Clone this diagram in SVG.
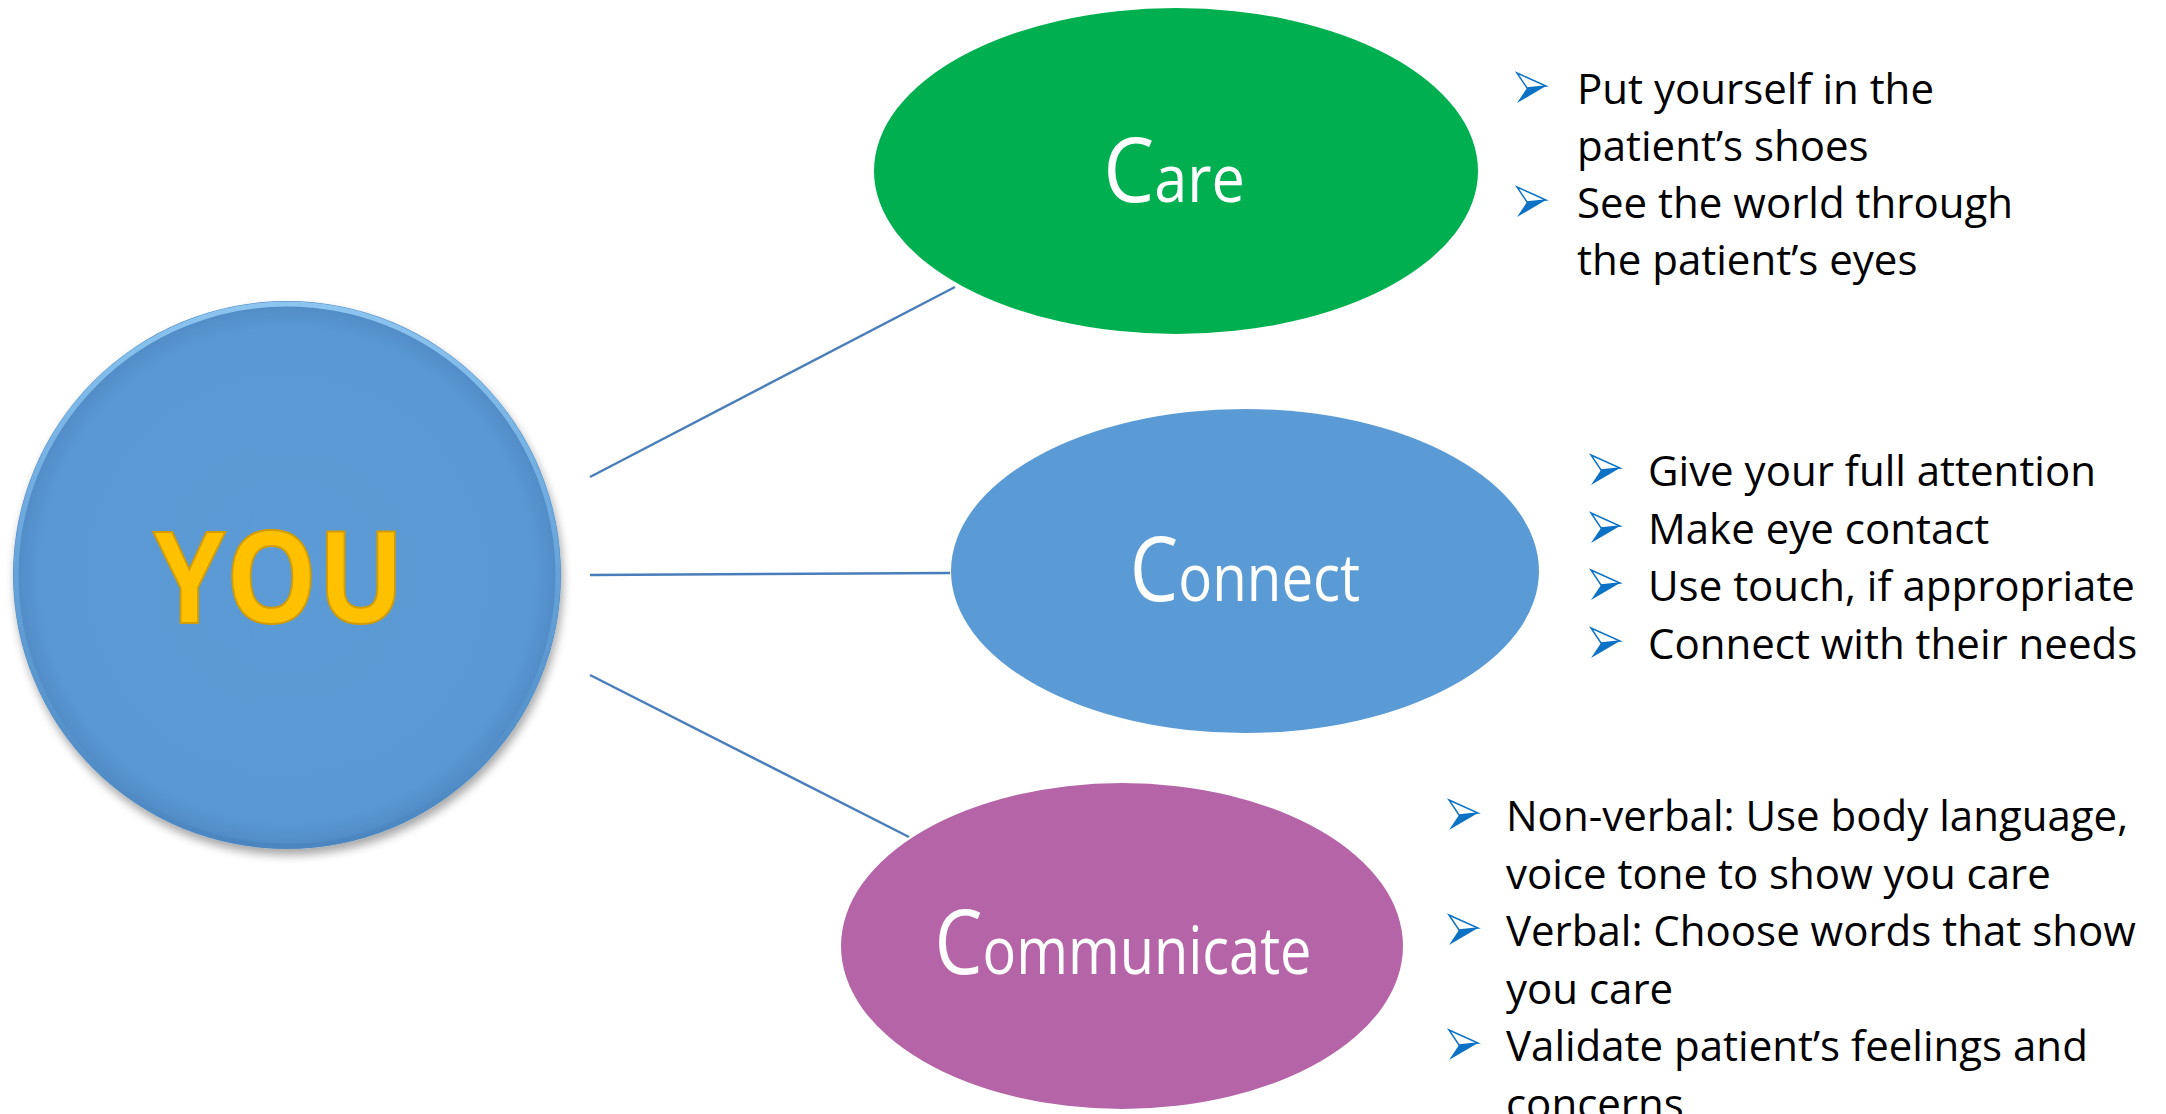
<svg xmlns="http://www.w3.org/2000/svg" xmlns:xlink="http://www.w3.org/1999/xlink" width="2166" height="1114" viewBox="0 0 2166 1114">
<style>
.conn{stroke:#4A7EBB;stroke-width:2.5;fill:none}
.lbl{font-family:"Open Sans","Liberation Sans",sans-serif;fill:#fff;text-anchor:middle}
.big{font-size:90px}
.small{font-size:66px}
.body{font-family:"Open Sans","Liberation Sans",sans-serif;font-size:42px;fill:#000}
.you{font-family:"Open Sans","Liberation Sans",sans-serif;font-weight:bold;font-size:127px;fill:#FFC000;stroke:#D39C00;stroke-width:2;text-anchor:middle}
</style>
<defs>
<radialGradient id="youFill" cx="0.5" cy="0.5" r="0.5">
<stop offset="0" stop-color="#5B9BD5"/>
<stop offset="0.9" stop-color="#5A98D3"/>
<stop offset="1" stop-color="#4F8AC4"/>
</radialGradient>
<linearGradient id="rim" x1="0" y1="0" x2="0" y2="1">
<stop offset="0" stop-color="#9BD3FA"/>
<stop offset="0.5" stop-color="#6AA8DE"/>
<stop offset="1" stop-color="#4A84BE"/>
</linearGradient>
<filter id="shadow" x="-10%" y="-10%" width="120%" height="125%">
<feGaussianBlur in="SourceAlpha" stdDeviation="5"/>
<feOffset dx="2" dy="6" result="b"/>
<feComponentTransfer><feFuncA type="linear" slope="0.35"/></feComponentTransfer>
<feMerge><feMergeNode/><feMergeNode in="SourceGraphic"/></feMerge>
</filter>
<g id="bul">
<polygon points="0,0 29,13 10,15" fill="#fff" stroke="#0B72C6" stroke-width="1.5"/>
<polygon points="10,15 29,13 0,30" fill="#0B72C6"/>
</g>
</defs>
<rect width="2166" height="1114" fill="#fff"/>

<g id="connectors">
<line class="conn" x1="590" y1="477" x2="955" y2="287"/>
<line class="conn" x1="590" y1="575" x2="950" y2="573"/>
<line class="conn" x1="590" y1="675" x2="909" y2="837"/>
</g>

<g id="you">
<circle cx="287" cy="575" r="274" fill="url(#youFill)" filter="url(#shadow)"/>
<circle cx="287" cy="575" r="271" fill="none" stroke="url(#rim)" stroke-width="5" opacity="0.8"/>
<text class="you" transform="translate(279,623) scale(0.91,1)" x="0" y="0">YOU</text>
</g>

<g id="care">
<ellipse cx="1176" cy="171" rx="302" ry="163" fill="#00B050"/>
<text class="lbl" transform="translate(1174,202) scale(0.9,1)" x="0" y="0"><tspan class="big">C</tspan><tspan class="small">are</tspan></text>
</g>

<g id="connect">
<ellipse cx="1245" cy="571" rx="294" ry="162" fill="#5B9BD5"/>
<text class="lbl" transform="translate(1245,601) scale(0.855,1)" x="0" y="0"><tspan class="big">C</tspan><tspan class="small">onnect</tspan></text>
</g>

<g id="communicate">
<ellipse cx="1122" cy="946" rx="281" ry="163" fill="#B565A7"/>
<text class="lbl" transform="translate(1123,974) scale(0.847,1)" x="0" y="0"><tspan class="big">C</tspan><tspan class="small">ommunicate</tspan></text>
</g>

<g id="care-list">
<use xlink:href="#bul" x="1517" y="73"/>
<use xlink:href="#bul" x="1517" y="187"/>
<text class="body" x="1577" y="104">Put yourself in the</text>
<text class="body" x="1577" y="161">patient’s shoes</text>
<text class="body" x="1577" y="218">See the world through</text>
<text class="body" x="1577" y="275">the patient’s eyes</text>
</g>

<g id="connect-list">
<use xlink:href="#bul" x="1591" y="455"/>
<use xlink:href="#bul" x="1591" y="513"/>
<use xlink:href="#bul" x="1591" y="570"/>
<use xlink:href="#bul" x="1591" y="628"/>
<text class="body" x="1648" y="486">Give your full attention</text>
<text class="body" x="1648" y="544">Make eye contact</text>
<text class="body" x="1648" y="601">Use touch, if appropriate</text>
<text class="body" x="1648" y="659">Connect with their needs</text>
</g>

<g id="communicate-list">
<use xlink:href="#bul" x="1449" y="800"/>
<use xlink:href="#bul" x="1449" y="915"/>
<use xlink:href="#bul" x="1449" y="1030"/>
<text class="body" x="1506" y="831">Non-verbal: Use body language,</text>
<text class="body" x="1506" y="889">voice tone to show you care</text>
<text class="body" x="1506" y="946">Verbal: Choose words that show</text>
<text class="body" x="1506" y="1004">you care</text>
<text class="body" x="1506" y="1061">Validate patient’s feelings and</text>
<text class="body" x="1506" y="1119">concerns</text>
</g>
</svg>
